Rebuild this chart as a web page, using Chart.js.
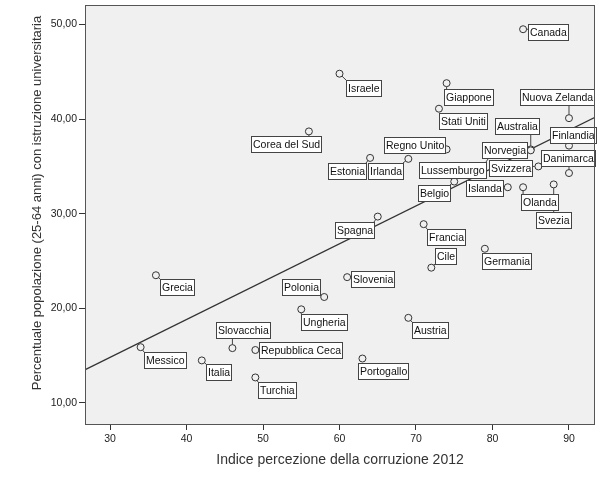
<!DOCTYPE html>
<html lang="it">
<head>
<meta charset="UTF-8">
<title>Istruzione universitaria e corruzione</title>
<script src="https://cdn.jsdelivr.net/npm/chart.js"></script>
<style>
    body { margin: 0; background: #fff; }
    canvas { display: block; }
</style>
</head>
<body>
<canvas id="scatterChart" width="603" height="482"></canvas>
<script>
// Data
const countries = ['Canada', 'Israele', 'Giappone', 'Stati Uniti', 'Nuova Zelanda', 'Australia', 'Norvegia',
    'Finlandia', 'Danimarca', 'Svizzera', 'Regno Unito', 'Estonia', 'Irlanda', 'Belgio', 'Lussemburgo',
    'Islanda', 'Olanda', 'Svezia', 'Corea del Sud', 'Spagna', 'Francia', 'Cile', 'Germania', 'Slovenia',
    'Austria', 'Portogallo', 'Grecia', 'Polonia', 'Ungheria', 'Slovacchia', 'Repubblica Ceca', 'Messico',
    'Italia', 'Turchia'];
const corruptionIndex = [84, 60, 74, 73, 90, 85, 85,
    90, 90, 86, 74, 64, 69, 75, 80,
    82, 84, 88, 56, 65, 71, 72, 79, 61,
    69, 63, 36, 58, 55, 46, 49, 34,
    42, 49];
const tertiaryShare = [49.5, 44.8, 43.8, 41.1, 40.1, 36.8, 36.7,
    37.2, 34.3, 35.0, 36.8, 35.9, 35.8, 33.4, 36.5,
    32.8, 32.8, 33.1, 38.7, 29.7, 28.9, 24.3, 26.3, 23.3,
    19.0, 14.7, 23.5, 21.2, 19.9, 15.8, 15.6, 15.9,
    14.5, 12.7];
const fitLineX = [26.7, 93.4];
const fitLineY = [13.5, 40.2];
const xTicks = [30, 40, 50, 60, 70, 80, 90];
const yTicks = [10, 20, 30, 40, 50];

// Label box offsets (top-left of box relative to the point, in px)
const labelOffsets = {
    'Canada': [5, -5], 'Israele': [6, 6], 'Giappone': [-3, 6], 'Stati Uniti': [0, 4],
    'Nuova Zelanda': [-49, -29], 'Australia': [-36, -31], 'Norvegia': [-49, -8],
    'Finlandia': [-19, -19], 'Danimarca': [-28, -23], 'Svizzera': [-49, -6],
    'Regno Unito': [-63, -12], 'Estonia': [-42, 5], 'Irlanda': [-40, 4], 'Belgio': [-36, 3],
    'Lussemburgo': [-73, 10], 'Islanda': [-42, -7], 'Olanda': [-2, 7], 'Svezia': [-18, 28],
    'Corea del Sud': [-58, 5], 'Spagna': [-43, 5], 'Francia': [3, 5], 'Cile': [4, -20],
    'Germania': [-3, 4], 'Slovenia': [4, -6], 'Austria': [4, 4], 'Portogallo': [-4, 4],
    'Grecia': [4, 4], 'Polonia': [-42, -18], 'Ungheria': [0, 5], 'Slovacchia': [-16, -26],
    'Repubblica Ceca': [4, -8], 'Messico': [3, 5], 'Italia': [4, 4], 'Turchia': [3, 5]
};

const FONT = 'Arial, "Liberation Sans", sans-serif';
const POINT_R = 3.5;

// plot background + frame + axis titles
const framePlugin = {
    id: 'frame',
    beforeDraw(chart) {
        const { ctx, chartArea: a } = chart;
        ctx.save();
        ctx.fillStyle = '#f0f0f0';
        ctx.fillRect(a.left, a.top, a.right - a.left, a.bottom - a.top);
        ctx.restore();
    },
    afterDraw(chart) {
        const { ctx, chartArea: a } = chart;
        ctx.save();
        ctx.strokeStyle = '#555';
        ctx.lineWidth = 1;
        ctx.strokeRect(a.left + 0.5, a.top + 0.5, a.right - a.left - 1, a.bottom - a.top);

        ctx.fillStyle = '#333';
        ctx.textAlign = 'center';
        ctx.textBaseline = 'middle';
        ctx.font = '14px ' + FONT;
        ctx.fillText('Indice percezione della corruzione 2012', (a.left + a.right) / 2, 460);
        ctx.font = '13px ' + FONT;
        ctx.translate(37, 203);
        ctx.rotate(-Math.PI / 2);
        ctx.fillText('Percentuale popolazione (25-64 anni) con istruzione universitaria', 0, 0);
        ctx.restore();
    }
};

// country labels with leader lines
const labelPlugin = {
    id: 'countryLabels',
    afterDatasetsDraw(chart) {
        const { ctx } = chart;
        const xs = chart.scales.x, ys = chart.scales.y;
        ctx.save();
        ctx.font = '10.5px ' + FONT;
        const boxes = countries.map((name, i) => {
            const px = xs.getPixelForValue(corruptionIndex[i]);
            const py = ys.getPixelForValue(tertiaryShare[i]);
            const off = labelOffsets[name] || [4, 4];
            const w = Math.round(ctx.measureText(name).width) + 3;
            const h = 16;
            return { name, px, py, l: Math.round(px + off[0]), t: Math.round(py + off[1]), w, h };
        });
        // leader lines
        ctx.strokeStyle = '#444';
        ctx.lineWidth = 1;
        boxes.forEach(b => {
            const cx = Math.min(Math.max(b.px, b.l), b.l + b.w);
            const cy = Math.min(Math.max(b.py, b.t), b.t + b.h);
            const dx = cx - b.px, dy = cy - b.py;
            const d = Math.hypot(dx, dy);
            if (d > POINT_R + 1) {
                ctx.beginPath();
                ctx.moveTo(b.px + dx / d * POINT_R, b.py + dy / d * POINT_R);
                ctx.lineTo(cx, cy);
                ctx.stroke();
            }
        });
        // boxes
        boxes.forEach(b => {
            ctx.fillStyle = '#fff';
            ctx.fillRect(b.l, b.t, b.w, b.h);
            ctx.strokeStyle = '#444';
            ctx.strokeRect(b.l + 0.5, b.t + 0.5, b.w, b.h);
            ctx.fillStyle = '#111';
            ctx.textAlign = 'left';
            ctx.textBaseline = 'middle';
            ctx.fillText(b.name, b.l + 2, b.t + b.h / 2 + 1);
        });
        ctx.restore();
    }
};

const ctx = document.getElementById('scatterChart').getContext('2d');
new Chart(ctx, {
    type: 'scatter',
    data: {
        datasets: [
            {
                label: 'Paesi',
                data: countries.map((c, i) => ({ x: corruptionIndex[i], y: tertiaryShare[i] })),
                pointRadius: POINT_R,
                pointBorderWidth: 1,
                pointBorderColor: '#333',
                pointBackgroundColor: '#f0f0f0',
                order: 1
            },
            {
                type: 'line',
                label: 'Retta',
                data: fitLineX.map((x, i) => ({ x, y: fitLineY[i] })),
                borderColor: '#333',
                borderWidth: 1.2,
                pointRadius: 0,
                fill: false,
                order: 2
            }
        ]
    },
    options: {
        responsive: false,
        animation: false,
        layout: { padding: { top: 5, right: 8, left: 0, bottom: 0 } },
        plugins: { legend: { display: false }, tooltip: { enabled: false } },
        scales: {
            x: {
                type: 'linear',
                min: 26.73,
                max: 93.4,
                afterBuildTicks: s => { s.ticks = xTicks.map(v => ({ value: v })); },
                afterFit: s => { s.height = 58; s.paddingLeft = 0; s.paddingRight = 0; },
                grid: { drawOnChartArea: false, tickLength: 6, tickColor: '#333' },
                border: { display: false },
                ticks: { color: '#222', font: { family: FONT, size: 10.5 }, padding: 3 }
            },
            y: {
                type: 'linear',
                min: 7.78,
                max: 52.06,
                afterBuildTicks: s => { s.ticks = yTicks.map(v => ({ value: v })); },
                afterFit: s => { s.width = 85; s.paddingTop = 0; s.paddingBottom = 0; },
                grid: { drawOnChartArea: false, tickLength: 6, tickColor: '#333' },
                border: { display: false },
                ticks: {
                    color: '#222', font: { family: FONT, size: 10.5 }, padding: 2,
                    callback: v => v.toFixed(2).replace('.', ',')
                }
            }
        }
    },
    plugins: [framePlugin, labelPlugin]
});
</script>
</body>
</html>
